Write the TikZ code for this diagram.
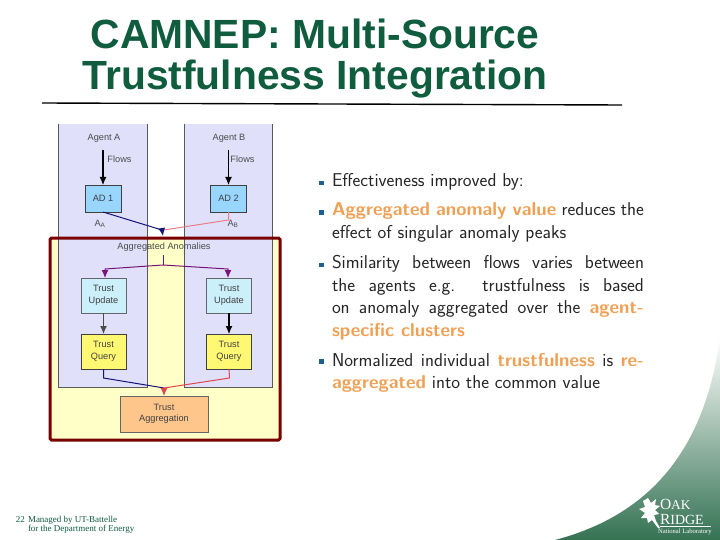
\documentclass[tikz,border=0pt]{standalone}
\usepackage{fontspec}
\setmainfont{Liberation Serif}
\setsansfont{Liberation Sans}
\newfontfamily\bulletfont{Latin Modern Sans}
\usepackage{tikz}
\usetikzlibrary{arrows.meta,positioning}
\usepackage{xcolor}
\definecolor{TitleGreen}{RGB}{15,92,62}
\definecolor{RidgeGreen}{RGB}{52,114,82}
\definecolor{FrameRed}{RGB}{120,0,0}
\definecolor{PanelBlue}{RGB}{224,224,250}
\definecolor{FrameYellow}{RGB}{255,255,200}
\definecolor{HighOrange}{RGB}{240,160,85}
\definecolor{BulletBlue}{RGB}{30,95,145}
\definecolor{LineNavy}{RGB}{20,20,120}
\definecolor{LineRed}{RGB}{225,70,80}
\definecolor{LinePurple}{RGB}{120,20,120}
\newcommand{\hi}[1]{{\bfseries\color{HighOrange}#1}}

\begin{document}
\begin{tikzpicture}[x=1pt,y=-1pt,
    every node/.style={inner sep=0pt,outer sep=0pt},
    flowbox/.style={draw=black!75,line width=0.7pt,align=center,text=black!75,font=\sffamily\fontsize{9.2}{11.5}\selectfont},
    panelbox/.style={fill=PanelBlue,minimum width=89pt,minimum height=263pt},
    plainlabel/.style={text=black!70,font=\sffamily\fontsize{9.2}{11.5}\selectfont,align=center},
    bulletmark/.style={fill=BulletBlue,minimum size=4.5pt},
    bullettext/.style={anchor=north west,text width=312pt,align=justify,text=black!85,font=\bulletfont\fontsize{18.6}{22.6}\selectfont},
    blackarrow/.style={-{Latex[length=8pt,width=7pt]},line width=1.1pt,black},
    navyarrow/.style={-{Latex[length=8pt,width=7pt]},line width=1pt,LineNavy},
    redarrow/.style={-{Latex[length=8pt,width=7pt]},line width=1pt,LineRed},
    purplearrow/.style={-{Latex[length=8pt,width=7pt]},line width=1pt,LinePurple}]
    \useasboundingbox (0,0) rectangle (720,540);
    % green corner
    \shade[top color=white,bottom color=RidgeGreen,middle color=RidgeGreen!50] (720,337) .. controls (705,450) and (650,515) .. (555,540) -- (720,540) -- cycle;
    % title
    \node[text=TitleGreen,font=\sffamily\bfseries\fontsize{40.8}{41}\selectfont,align=center] (title) at (315,59) {CAMNEP: Multi-Source\\Trustfulness Integration};
    \coordinate (ruleleft) at (42,103);
    \coordinate (ruleright) at (622,105);
    \draw[line width=1.4pt] (ruleleft) -- (ruleright);
    % frame and agent panels
    \node[fill=FrameYellow,minimum width=230pt,minimum height=202pt] (aggframe) at (165,339) {};
    \node[panelbox] (panela) at (102.5,255.5) {};
    \node[panelbox,minimum width=88pt] (panelb) at (228,255.5) {};
    \draw[black!65,line width=0.7pt] (panela.north west) -- (panela.south west) -- (panela.south east) -- (panela.north east);
    \draw[black!65,line width=0.7pt] (panelb.north west) -- (panelb.south west) -- (panelb.south east) -- (panelb.north east);
    \draw[FrameRed,line width=3pt,rounded corners=1.5pt] (aggframe.north west) rectangle (aggframe.south east);
    % boxes
    \node[plainlabel] (agenta) at (104,138) {Agent A};
    \node[plainlabel] (agentb) at (229,138) {Agent B};
    \node[flowbox,fill=blue!40!cyan!40,minimum width=36pt,minimum height=27pt] (ad1) at (103,198.5) {AD 1};
    \node[flowbox,fill=blue!40!cyan!40,minimum width=36pt,minimum height=27pt] (ad2) at (228.5,198.5) {AD 2};
    \node[flowbox,fill=cyan!20,draw=black!60,minimum width=45pt,minimum height=35pt] (update1) at (103.5,295.5) {Trust\\Update};
    \node[flowbox,fill=cyan!20,draw=black!60,minimum width=45pt,minimum height=35pt] (update2) at (229,295.5) {Trust\\Update};
    \node[flowbox,fill=yellow!55,minimum width=45pt,minimum height=35pt,below=21pt of update1] (query1) {Trust\\Query};
    \node[flowbox,fill=yellow!55,minimum width=45pt,minimum height=35pt,below=21pt of update2] (query2) {Trust\\Query};
    \node[flowbox,fill=orange!45,draw=black!60,minimum width=88pt,minimum height=36pt] (trustagg) at (164,414) {Trust\\Aggregation};
    % labels
    \node[plainlabel] (flowsa) at (119.5,159) {Flows};
    \node[plainlabel] (flowsb) at (242.5,159) {Flows};
    \node[plainlabel] (anoma) at (100,224) {A\textsubscript{A}};
    \node[plainlabel] (anomb) at (233,224) {A\textsubscript{B}};
    \node[plainlabel] (agganom) at (164,247) {Aggregated Anomalies};
    % connectors
    \coordinate (flowstarta) at (103,150);
    \coordinate (flowstartb) at (228.5,150);
    \draw[blackarrow] (flowstarta) -- (ad1.north);
    \draw[blackarrow] (flowstartb) -- (ad2.north);
    \coordinate (mergetop) at (163,236);
    \coordinate (bendb) at (228.5,220);
    \draw[LineRed!70,line width=1pt] (ad2.south) -- (bendb) -- (164,230);
    \draw[navyarrow] (ad1.south) -- (162,230) -- (mergetop);
    \coordinate (forktop) at (163,255);
    \coordinate (forkmid) at (163,265);
    \coordinate (forkleft) at (105,269);
    \coordinate (forkright) at (228,269);
    \draw[LinePurple,line width=1pt] (forktop) -- (forkmid);
    \draw[purplearrow] (forkmid) -- (forkleft) -- (forkleft |- update1.north);
    \draw[purplearrow] (forkmid) -- (forkright) -- (forkright |- update2.north);
    \draw[blackarrow,black!70] (update1) -- (query1);
    \draw[blackarrow] (update2) -- (query2);
    \coordinate (joinmid) at (164,388);
    \coordinate (benda) at (103.5,378);
    \coordinate (bendc) at (229.5,378);
    \draw[LineNavy,line width=1pt] (query1.south) -- (benda) -- (joinmid);
    \draw[LineRed,line width=1pt] (query2.south) -- (bendc) -- (joinmid);
    \draw[redarrow] (joinmid) -- (trustagg.north);
    % bullets
    \node[bulletmark] (mark1) at (321.5,183) {};
    \node[bulletmark] (mark2) at (321.5,212.5) {};
    \node[bulletmark] (mark3) at (321.5,265) {};
    \node[bulletmark] (mark4) at (321.5,361.5) {};
    \node[bullettext] (text1) at (332,173) {Effectiveness improved by:};
    \node[bullettext] (text2) at (332,203) {\hi{Aggregated anomaly value} reduces the\linebreak effect of singular anomaly peaks};
    \node[bullettext] (text3) at (332,255.5) {Similarity between flows varies between\linebreak the agents e.g.\ \ trustfulness is based\linebreak on anomaly aggregated over the \hi{agent-}\linebreak \hi{specific clusters}};
    \node[bullettext] (text4) at (332,353) {Normalized individual \hi{trustfulness} is \hi{re-}\linebreak \hi{aggregated} into the common value};
    % footer
    \node[anchor=west,text=TitleGreen,font=\fontsize{9}{9}\selectfont] (pagenum) at (16,520) {22};
    \node[anchor=west,text=TitleGreen,font=\fontsize{9}{9}\selectfont] (footer1) at (28,520) {Managed by UT-Battelle};
    \node[anchor=west,text=TitleGreen,font=\fontsize{9}{9}\selectfont] (footer2) at (28,529) {for the Department of Energy};
    % logo
    \fill[white] (648,498) -- (651,503) -- (656,499) -- (655,505) -- (660,506) -- (655,510) -- (659,514) -- (654,515) -- (656,521) -- (660,528) -- (658,528) -- (652,520) -- (648,523) -- (647,518) -- (641,518) -- (645,513) -- (639,509) -- (645,507) -- (643,501) -- cycle;
    \node[anchor=west,text=white,font=\fontsize{15.5}{15}\selectfont] (logooak) at (660,504.5) {O\fontsize{13.5}{13}\selectfont AK};
    \node[anchor=west,text=white,font=\fontsize{15.5}{15}\selectfont] (logoridge) at (660,519) {R\fontsize{14}{13}\selectfont IDGE};
    \coordinate (logorulea) at (660,526);
    \coordinate (logoruleb) at (711,526);
    \draw[white,line width=0.5pt] (logorulea) -- (logoruleb);
    \node[anchor=west,text=white,font=\fontsize{6.6}{7}\selectfont] (logonational) at (658,532) {National Laboratory};
\end{tikzpicture}
\end{document}
